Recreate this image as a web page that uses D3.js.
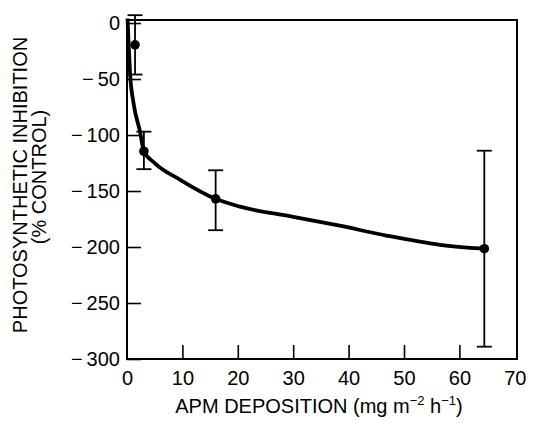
<!DOCTYPE html>
<html>
<head>
<meta charset="utf-8">
<script src="https://cdn.jsdelivr.net/npm/d3@7"></script>
<style>
  body { margin: 0; background: #fff; }
  svg text { font-family: "Liberation Sans", Arial, sans-serif; fill: #000; }
</style>
</head>
<body>
<svg id="chart" width="533" height="431"></svg>
<script>
// measured points with error bars
var pointX = [1.45, 3.05, 16, 64.5];
var pointY = [-19.5, -114.5, -157, -201.5];
var errTop = [7, -97, -131.5, -114];
var errBottom = [-46, -130.5, -185, -289];

// fitted curve
var curveX = [0.1, 0.3, 0.55, 1.2, 2.35, 3.05, 5, 9.6, 16, 20.4, 30, 38.4, 47, 56.5, 64.5];
var curveY = [4, -20, -45, -72, -97, -114.5, -125, -140, -157, -164, -173, -181, -190, -198, -201.5];

var xTicks = [0, 10, 20, 30, 40, 50, 60, 70];
var yTicks = [0, -50, -100, -150, -200, -250, -300];

var svg = d3.select('#chart');
var plotL = 127, plotR = 517, plotT = 20, plotB = 359;

var x = d3.scaleLinear().domain([0, 70.4]).range([plotL, plotR]);
var y = d3.scaleLinear().domain([-300, 2.7]).range([plotB, plotT]);

// axes, ticks pointing inside
var xAxis = svg.append('g')
  .attr('transform', 'translate(0,' + plotB + ')')
  .call(d3.axisBottom(x).tickValues(xTicks).tickSize(-14).tickPadding(10)
    .tickFormat(function (d) { return d; }));
xAxis.select('.domain').remove();
xAxis.selectAll('line').attr('stroke-width', 1.6)
  .filter(function (d) { return d === 0 || d === 70; }).remove();
xAxis.selectAll('text').attr('font-size', 20).attr('dy', '0.82em');

var yAxis = svg.append('g')
  .attr('transform', 'translate(' + plotL + ',0)')
  .call(d3.axisLeft(y).tickValues(yTicks).tickSize(-14).tickPadding(7)
    .tickFormat(function (d) { return d === 0 ? '0' : '\u2212\u2009' + Math.abs(d); }));
yAxis.select('.domain').remove();
yAxis.selectAll('line').attr('stroke-width', 1.6);
yAxis.selectAll('text').attr('font-size', 20);

// frame
svg.append('rect')
  .attr('x', plotL).attr('y', plotT)
  .attr('width', plotR - plotL).attr('height', plotB - plotT)
  .attr('fill', 'none').attr('stroke', '#000').attr('stroke-width', 2);

// curve
var curveData = curveX.map(function (v, i) { return [v, curveY[i]]; });
var line = d3.line()
  .x(function (d) { return x(d[0]); })
  .y(function (d) { return y(d[1]); })
  .curve(d3.curveMonotoneX);
svg.append('path')
  .datum(curveData)
  .attr('d', line)
  .attr('fill', 'none')
  .attr('stroke', '#000')
  .attr('stroke-width', 3.8);

// error bars
var pts = pointX.map(function (v, i) {
  return { x: v, y: pointY[i], hi: errTop[i], lo: errBottom[i] };
});
var eb = svg.append('g').attr('stroke', '#000').attr('stroke-width', 1.8);
pts.forEach(function (p) {
  var cx = x(p.x);
  eb.append('line').attr('x1', cx).attr('x2', cx).attr('y1', y(p.hi)).attr('y2', y(p.lo));
  eb.append('line').attr('x1', cx - 7.5).attr('x2', cx + 7.5).attr('y1', y(p.hi)).attr('y2', y(p.hi));
  eb.append('line').attr('x1', cx - 7.5).attr('x2', cx + 7.5).attr('y1', y(p.lo)).attr('y2', y(p.lo));
});

svg.append('g').selectAll('circle')
  .data(pts)
  .enter().append('circle')
  .attr('cx', function (d) { return x(d.x); })
  .attr('cy', function (d) { return y(d.y); })
  .attr('r', 4.8)
  .attr('fill', '#000');

// axis titles
var xt = svg.append('text')
  .attr('x', 319).attr('y', 413)
  .attr('text-anchor', 'middle')
  .attr('font-size', 20);
xt.append('tspan').text('APM DEPOSITION (mg m');
xt.append('tspan').attr('dy', -8).attr('font-size', 13).text('\u22122');
xt.append('tspan').attr('dy', 8).text(' h');
xt.append('tspan').attr('dy', -8).attr('font-size', 13).text('\u22121');
xt.append('tspan').attr('dy', 8).text(')');

svg.append('text')
  .attr('transform', 'translate(27,185) rotate(-90)')
  .attr('text-anchor', 'middle')
  .attr('font-size', 20)
  .text('PHOTOSYNTHETIC INHIBITION');
svg.append('text')
  .attr('transform', 'translate(46,177) rotate(-90)')
  .attr('text-anchor', 'middle')
  .attr('font-size', 20)
  .text('(% CONTROL)');
</script>
</body>
</html>
